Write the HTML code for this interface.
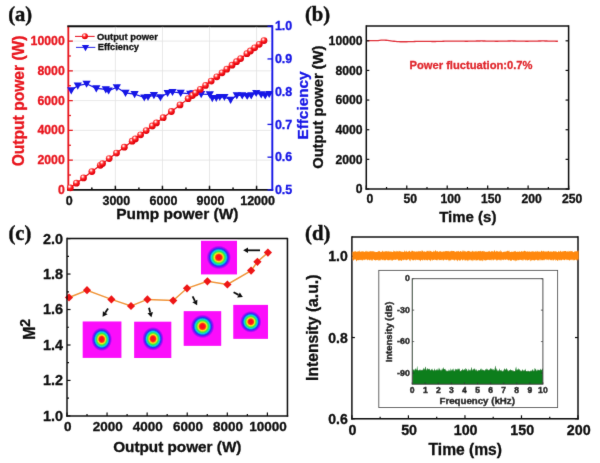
<!DOCTYPE html>
<html><head><meta charset="utf-8"><title>Figure</title>
<style>
html,body{margin:0;padding:0;background:#fff;}
body{width:600px;height:463px;overflow:hidden;}
svg{display:block;}
svg text{font-family:"Liberation Sans",sans-serif;font-weight:bold;}

svg text.pl{font-family:"Liberation Serif",serif;font-weight:bold;}
</style></head><body>
<svg width="600" height="463" viewBox="0 0 600 463">
<defs>
<filter id="soft" x="0" y="0" width="600" height="463" filterUnits="userSpaceOnUse"><feConvolveMatrix order="3" kernelMatrix="1 6 1 6 72 6 1 6 1" divisor="100" edgeMode="duplicate" preserveAlpha="false"/></filter>
<radialGradient id="sph" cx="0.38" cy="0.32" r="0.75">
<stop offset="0" stop-color="#ffffff"/><stop offset="0.14" stop-color="#ffc0c0"/><stop offset="0.32" stop-color="#ff3a3a"/><stop offset="0.6" stop-color="#f20c14"/><stop offset="1" stop-color="#d4000a"/>
</radialGradient>
<radialGradient id="beam" cx="0.5" cy="0.5" r="0.5">
<stop offset="0" stop-color="#ff0828"/>
<stop offset="0.24" stop-color="#ff1a10"/>
<stop offset="0.35" stop-color="#f6e81c"/>
<stop offset="0.48" stop-color="#22ee3a"/>
<stop offset="0.60" stop-color="#10d0e0"/>
<stop offset="0.72" stop-color="#1428f4"/>
<stop offset="0.83" stop-color="#9010f6"/>
<stop offset="0.97" stop-color="#fb08fb"/>
<stop offset="1" stop-color="#fb08fb"/>
</radialGradient>
</defs>
<rect width="600" height="463" fill="#fff"/>
<g filter="url(#soft)">
<line x1="115.37" y1="26.20" x2="115.37" y2="189.90" stroke="#e2e2e2" stroke-width="0.8" />
<line x1="162.44" y1="26.20" x2="162.44" y2="189.90" stroke="#e2e2e2" stroke-width="0.8" />
<line x1="209.51" y1="26.20" x2="209.51" y2="189.90" stroke="#e2e2e2" stroke-width="0.8" />
<line x1="256.58" y1="26.20" x2="256.58" y2="189.90" stroke="#e2e2e2" stroke-width="0.8" />
<line x1="68.30" y1="160.14" x2="272.30" y2="160.14" stroke="#e2e2e2" stroke-width="0.8" />
<line x1="68.30" y1="130.38" x2="272.30" y2="130.38" stroke="#e2e2e2" stroke-width="0.8" />
<line x1="68.30" y1="100.62" x2="272.30" y2="100.62" stroke="#e2e2e2" stroke-width="0.8" />
<line x1="68.30" y1="70.86" x2="272.30" y2="70.86" stroke="#e2e2e2" stroke-width="0.8" />
<line x1="68.30" y1="41.10" x2="272.30" y2="41.10" stroke="#e2e2e2" stroke-width="0.8" />
<line x1="68.30" y1="26.20" x2="68.30" y2="190.80" stroke="#e8141c" stroke-width="1.8" />
<line x1="67.35" y1="26.20" x2="272.30" y2="26.20" stroke="#0c0c0c" stroke-width="1.9000000000000001" />
<line x1="67.35" y1="189.90" x2="273.20" y2="189.90" stroke="#0c0c0c" stroke-width="1.9000000000000001" />
<line x1="68.30" y1="189.90" x2="68.30" y2="185.70" stroke="#0c0c0c" stroke-width="1.5" />
<line x1="91.83" y1="189.90" x2="91.83" y2="187.50" stroke="#0c0c0c" stroke-width="1.5" />
<line x1="115.37" y1="189.90" x2="115.37" y2="185.70" stroke="#0c0c0c" stroke-width="1.5" />
<line x1="138.91" y1="189.90" x2="138.91" y2="187.50" stroke="#0c0c0c" stroke-width="1.5" />
<line x1="162.44" y1="189.90" x2="162.44" y2="185.70" stroke="#0c0c0c" stroke-width="1.5" />
<line x1="185.97" y1="189.90" x2="185.97" y2="187.50" stroke="#0c0c0c" stroke-width="1.5" />
<line x1="209.51" y1="189.90" x2="209.51" y2="185.70" stroke="#0c0c0c" stroke-width="1.5" />
<line x1="233.05" y1="189.90" x2="233.05" y2="187.50" stroke="#0c0c0c" stroke-width="1.5" />
<line x1="256.58" y1="189.90" x2="256.58" y2="185.70" stroke="#0c0c0c" stroke-width="1.5" />
<line x1="272.30" y1="25.25" x2="272.30" y2="190.85" stroke="#1414e6" stroke-width="1.9000000000000001" />
<line x1="68.30" y1="189.90" x2="72.90" y2="189.90" stroke="#e8141c" stroke-width="1.3" />
<line x1="68.30" y1="175.02" x2="70.90" y2="175.02" stroke="#e8141c" stroke-width="1.3" />
<line x1="68.30" y1="160.14" x2="72.90" y2="160.14" stroke="#e8141c" stroke-width="1.3" />
<line x1="68.30" y1="145.26" x2="70.90" y2="145.26" stroke="#e8141c" stroke-width="1.3" />
<line x1="68.30" y1="130.38" x2="72.90" y2="130.38" stroke="#e8141c" stroke-width="1.3" />
<line x1="68.30" y1="115.50" x2="70.90" y2="115.50" stroke="#e8141c" stroke-width="1.3" />
<line x1="68.30" y1="100.62" x2="72.90" y2="100.62" stroke="#e8141c" stroke-width="1.3" />
<line x1="68.30" y1="85.74" x2="70.90" y2="85.74" stroke="#e8141c" stroke-width="1.3" />
<line x1="68.30" y1="70.86" x2="72.90" y2="70.86" stroke="#e8141c" stroke-width="1.3" />
<line x1="68.30" y1="55.98" x2="70.90" y2="55.98" stroke="#e8141c" stroke-width="1.3" />
<line x1="68.30" y1="41.10" x2="72.90" y2="41.10" stroke="#e8141c" stroke-width="1.3" />
<line x1="272.30" y1="189.90" x2="267.50" y2="189.90" stroke="#1414e6" stroke-width="1.3" />
<line x1="272.30" y1="157.16" x2="267.50" y2="157.16" stroke="#1414e6" stroke-width="1.3" />
<line x1="272.30" y1="124.42" x2="267.50" y2="124.42" stroke="#1414e6" stroke-width="1.3" />
<line x1="272.30" y1="91.68" x2="267.50" y2="91.68" stroke="#1414e6" stroke-width="1.3" />
<line x1="272.30" y1="58.94" x2="267.50" y2="58.94" stroke="#1414e6" stroke-width="1.3" />
<line x1="272.30" y1="26.20" x2="267.50" y2="26.20" stroke="#1414e6" stroke-width="1.3" />
<polyline fill="none" stroke="#1414e6" stroke-width="1.2" points="71.2,90.4 77.8,85.6 86.6,83.8 96.3,88.3 105.8,89.3 108.6,90.5 116.8,87.4 125.5,92.9 134.6,94.2 144.3,97.5 148.0,97.0 153.9,95.1 160.5,97.3 167.6,93.0 172.5,92.0 180.7,92.8 190.2,93.9 193.3,93.4 201.2,94.2 209.8,94.4 212.3,98.2 216.3,98.0 219.8,97.0 224.4,97.0 230.6,99.8 236.8,95.4 242.2,95.4 247.2,96.0 251.2,95.4 256.2,93.0 261.2,94.4 265.2,95.4 269.2,94.0"/>
<polygon points="67.1,87.3 75.3,87.3 71.2,94.5" fill="#1414e6"/>
<polygon points="73.7,82.5 81.9,82.5 77.8,89.7" fill="#1414e6"/>
<polygon points="82.5,80.7 90.7,80.7 86.6,87.8" fill="#1414e6"/>
<polygon points="92.2,85.2 100.4,85.2 96.3,92.4" fill="#1414e6"/>
<polygon points="101.7,86.2 109.9,86.2 105.8,93.4" fill="#1414e6"/>
<polygon points="104.5,87.4 112.7,87.4 108.6,94.6" fill="#1414e6"/>
<polygon points="112.7,84.3 120.9,84.3 116.8,91.5" fill="#1414e6"/>
<polygon points="121.4,89.8 129.6,89.8 125.5,97.0" fill="#1414e6"/>
<polygon points="130.5,91.1 138.7,91.1 134.6,98.3" fill="#1414e6"/>
<polygon points="140.2,94.4 148.4,94.4 144.3,101.6" fill="#1414e6"/>
<polygon points="143.9,93.9 152.1,93.9 148.0,101.1" fill="#1414e6"/>
<polygon points="149.8,92.0 158.0,92.0 153.9,99.2" fill="#1414e6"/>
<polygon points="156.4,94.2 164.6,94.2 160.5,101.4" fill="#1414e6"/>
<polygon points="163.5,89.9 171.7,89.9 167.6,97.1" fill="#1414e6"/>
<polygon points="168.4,88.9 176.6,88.9 172.5,96.1" fill="#1414e6"/>
<polygon points="176.6,89.7 184.8,89.7 180.7,96.9" fill="#1414e6"/>
<polygon points="186.1,90.8 194.3,90.8 190.2,98.0" fill="#1414e6"/>
<polygon points="189.2,90.3 197.4,90.3 193.3,97.5" fill="#1414e6"/>
<polygon points="197.1,91.1 205.3,91.1 201.2,98.3" fill="#1414e6"/>
<polygon points="205.7,91.3 213.9,91.3 209.8,98.5" fill="#1414e6"/>
<polygon points="208.2,95.1 216.4,95.1 212.3,102.3" fill="#1414e6"/>
<polygon points="212.2,94.9 220.4,94.9 216.3,102.1" fill="#1414e6"/>
<polygon points="215.7,93.9 223.9,93.9 219.8,101.1" fill="#1414e6"/>
<polygon points="220.3,93.9 228.5,93.9 224.4,101.1" fill="#1414e6"/>
<polygon points="226.5,96.7 234.7,96.7 230.6,103.9" fill="#1414e6"/>
<polygon points="232.7,92.3 240.9,92.3 236.8,99.5" fill="#1414e6"/>
<polygon points="238.1,92.3 246.3,92.3 242.2,99.5" fill="#1414e6"/>
<polygon points="243.1,92.9 251.3,92.9 247.2,100.1" fill="#1414e6"/>
<polygon points="247.1,92.3 255.3,92.3 251.2,99.5" fill="#1414e6"/>
<polygon points="252.1,89.9 260.3,89.9 256.2,97.1" fill="#1414e6"/>
<polygon points="257.1,91.3 265.3,91.3 261.2,98.5" fill="#1414e6"/>
<polygon points="261.1,92.3 269.3,92.3 265.2,99.5" fill="#1414e6"/>
<polygon points="265.1,90.9 273.3,90.9 269.2,98.1" fill="#1414e6"/>
<polyline fill="none" stroke="#e8141c" stroke-width="1.2" points="70.3,187.8 76.4,183.2 83.5,177.9 91.9,171.6 100.3,165.3 102.5,163.6 109.2,158.6 116.5,153.1 124.3,147.2 132.2,141.2 135.3,138.9 140.6,134.8 146.2,130.6 152.3,126.0 156.4,122.9 163.2,117.7 171.4,111.5 180.0,104.9 188.2,98.7 192.4,95.5 195.6,93.0 200.3,89.4 205.6,85.4 211.2,81.1 216.8,76.8 222.0,72.8 226.8,69.2 232.0,65.2 236.5,61.7 240.6,58.6 246.9,53.7 250.4,51.0 254.6,47.8 259.2,44.3 264.0,40.6"/>
<circle cx="70.3" cy="187.8" r="3.4" fill="url(#sph)"/>
<circle cx="76.4" cy="183.2" r="3.4" fill="url(#sph)"/>
<circle cx="83.5" cy="177.9" r="3.4" fill="url(#sph)"/>
<circle cx="91.9" cy="171.6" r="3.4" fill="url(#sph)"/>
<circle cx="100.3" cy="165.3" r="3.4" fill="url(#sph)"/>
<circle cx="102.5" cy="163.6" r="3.4" fill="url(#sph)"/>
<circle cx="109.2" cy="158.6" r="3.4" fill="url(#sph)"/>
<circle cx="116.5" cy="153.1" r="3.4" fill="url(#sph)"/>
<circle cx="124.3" cy="147.2" r="3.4" fill="url(#sph)"/>
<circle cx="132.2" cy="141.2" r="3.4" fill="url(#sph)"/>
<circle cx="135.3" cy="138.9" r="3.4" fill="url(#sph)"/>
<circle cx="140.6" cy="134.8" r="3.4" fill="url(#sph)"/>
<circle cx="146.2" cy="130.6" r="3.4" fill="url(#sph)"/>
<circle cx="152.3" cy="126.0" r="3.4" fill="url(#sph)"/>
<circle cx="156.4" cy="122.9" r="3.4" fill="url(#sph)"/>
<circle cx="163.2" cy="117.7" r="3.4" fill="url(#sph)"/>
<circle cx="171.4" cy="111.5" r="3.4" fill="url(#sph)"/>
<circle cx="180.0" cy="104.9" r="3.4" fill="url(#sph)"/>
<circle cx="188.2" cy="98.7" r="3.4" fill="url(#sph)"/>
<circle cx="192.4" cy="95.5" r="3.4" fill="url(#sph)"/>
<circle cx="195.6" cy="93.0" r="3.4" fill="url(#sph)"/>
<circle cx="200.3" cy="89.4" r="3.4" fill="url(#sph)"/>
<circle cx="205.6" cy="85.4" r="3.4" fill="url(#sph)"/>
<circle cx="211.2" cy="81.1" r="3.4" fill="url(#sph)"/>
<circle cx="216.8" cy="76.8" r="3.4" fill="url(#sph)"/>
<circle cx="222.0" cy="72.8" r="3.4" fill="url(#sph)"/>
<circle cx="226.8" cy="69.2" r="3.4" fill="url(#sph)"/>
<circle cx="232.0" cy="65.2" r="3.4" fill="url(#sph)"/>
<circle cx="236.5" cy="61.7" r="3.4" fill="url(#sph)"/>
<circle cx="240.6" cy="58.6" r="3.4" fill="url(#sph)"/>
<circle cx="246.9" cy="53.7" r="3.4" fill="url(#sph)"/>
<circle cx="250.4" cy="51.0" r="3.4" fill="url(#sph)"/>
<circle cx="254.6" cy="47.8" r="3.4" fill="url(#sph)"/>
<circle cx="259.2" cy="44.3" r="3.4" fill="url(#sph)"/>
<circle cx="264.0" cy="40.6" r="3.4" fill="url(#sph)"/>
<text x="64.80" y="193.90" font-size="12.3" fill="#e8141c" stroke="#e8141c" stroke-width="0.3" text-anchor="end" >0</text>
<text x="64.80" y="164.14" font-size="12.3" fill="#e8141c" stroke="#e8141c" stroke-width="0.3" text-anchor="end" >2000</text>
<text x="64.80" y="134.38" font-size="12.3" fill="#e8141c" stroke="#e8141c" stroke-width="0.3" text-anchor="end" >4000</text>
<text x="64.80" y="104.62" font-size="12.3" fill="#e8141c" stroke="#e8141c" stroke-width="0.3" text-anchor="end" >6000</text>
<text x="64.80" y="74.86" font-size="12.3" fill="#e8141c" stroke="#e8141c" stroke-width="0.3" text-anchor="end" >8000</text>
<text x="64.80" y="45.10" font-size="12.3" fill="#e8141c" stroke="#e8141c" stroke-width="0.3" text-anchor="end" >10000</text>
<text x="69.30" y="204.80" font-size="12.5" fill="#0c0c0c" stroke="#0c0c0c" stroke-width="0.3" text-anchor="middle" >0</text>
<text x="116.37" y="204.80" font-size="12.5" fill="#0c0c0c" stroke="#0c0c0c" stroke-width="0.3" text-anchor="middle" >3000</text>
<text x="163.44" y="204.80" font-size="12.5" fill="#0c0c0c" stroke="#0c0c0c" stroke-width="0.3" text-anchor="middle" >6000</text>
<text x="210.51" y="204.80" font-size="12.5" fill="#0c0c0c" stroke="#0c0c0c" stroke-width="0.3" text-anchor="middle" >9000</text>
<text x="257.58" y="204.80" font-size="12.5" fill="#0c0c0c" stroke="#0c0c0c" stroke-width="0.3" text-anchor="middle" >12000</text>
<text x="274.90" y="194.10" font-size="12.5" fill="#1414e6" stroke="#1414e6" stroke-width="0.3" text-anchor="start" >0.5</text>
<text x="274.90" y="161.36" font-size="12.5" fill="#1414e6" stroke="#1414e6" stroke-width="0.3" text-anchor="start" >0.6</text>
<text x="274.90" y="128.62" font-size="12.5" fill="#1414e6" stroke="#1414e6" stroke-width="0.3" text-anchor="start" >0.7</text>
<text x="274.90" y="95.88" font-size="12.5" fill="#1414e6" stroke="#1414e6" stroke-width="0.3" text-anchor="start" >0.8</text>
<text x="274.90" y="63.14" font-size="12.5" fill="#1414e6" stroke="#1414e6" stroke-width="0.3" text-anchor="start" >0.9</text>
<text x="274.90" y="30.40" font-size="12.5" fill="#1414e6" stroke="#1414e6" stroke-width="0.3" text-anchor="start" >1.0</text>
<text x="24.20" y="100.90" font-size="15.6" fill="#e8141c" stroke="#e8141c" stroke-width="0.3" text-anchor="middle" transform="rotate(-90 24.20 100.90)" >Output power (W)</text>
<text x="177.30" y="219.00" font-size="15.5" fill="#0c0c0c" stroke="#0c0c0c" stroke-width="0.3" text-anchor="middle" >Pump power (W)</text>
<text x="308.30" y="105.50" font-size="15.3" fill="#1414e6" stroke="#1414e6" stroke-width="0.3" text-anchor="middle" transform="rotate(-90 308.30 105.50)" >Effciency</text>
<line x1="75.00" y1="36.40" x2="94.70" y2="36.40" stroke="#e8141c" stroke-width="1" />
<circle cx="84.9" cy="36.3" r="3.0" fill="url(#sph)"/>
<text x="97.00" y="39.60" font-size="9.4" fill="#0c0c0c" stroke="#0c0c0c" stroke-width="0.3" text-anchor="start" >Output power</text>
<line x1="76.00" y1="47.40" x2="95.30" y2="47.40" stroke="#1414e6" stroke-width="0.9" />
<polygon points="81.9,44.9 89.1,44.9 85.5,51.2" fill="#1414e6"/>
<text x="97.70" y="50.30" font-size="9.3" fill="#0c0c0c" stroke="#0c0c0c" stroke-width="0.3" text-anchor="start" >Effciency</text>
<polyline fill="none" stroke="#e0303a" stroke-width="1.3" points="366.9,40.60 368.5,40.60 370.1,40.60 371.7,40.60 373.3,40.60 374.9,40.60 376.4,40.60 378.0,40.60 379.6,40.40 381.2,40.21 382.8,40.11 384.4,40.12 386.0,40.23 387.6,40.43 389.2,40.65 390.8,40.85 392.4,41.05 394.0,41.24 395.5,41.44 397.1,41.64 398.7,41.72 400.3,41.75 401.9,41.76 403.5,41.77 405.1,41.76 406.7,41.74 408.3,41.70 409.9,41.66 411.5,41.60 413.1,41.55 414.6,41.49 416.2,41.44 417.8,41.40 419.4,41.37 421.0,41.35 422.6,41.35 424.2,41.36 425.8,41.38 427.4,41.41 429.0,41.44 430.6,41.46 432.1,41.48 433.7,41.49 435.3,41.48 436.9,41.46 438.5,41.43 440.1,41.38 441.7,41.33 443.3,41.27 444.9,41.22 446.5,41.17 448.1,41.12 449.7,41.09 451.2,41.07 452.8,41.07 454.4,41.08 456.0,41.10 457.6,41.12 459.2,41.15 460.8,41.18 462.4,41.19 464.0,41.22 465.6,41.23 467.2,41.23 468.8,41.21 470.3,41.18 471.9,41.15 473.5,41.10 475.1,41.06 476.7,41.02 478.3,40.99 479.9,40.98 481.5,40.97 483.1,40.98 484.7,41.00 486.3,41.03 487.8,41.07 489.4,41.11 491.0,41.15 492.6,41.19 494.2,41.22 495.8,41.23 497.4,41.23 499.0,41.21 500.6,41.19 502.2,41.15 503.8,41.11 505.4,41.07 506.9,41.03 508.5,41.00 510.1,40.98 511.7,40.97 513.3,40.98 514.9,41.00 516.5,41.03 518.1,41.06 519.7,41.11 521.3,41.15 522.9,41.18 524.5,41.21 526.0,41.23 527.6,41.23 529.2,41.22 530.8,41.19 532.4,41.16 534.0,41.12 535.6,41.08 537.2,41.04 538.8,41.00 540.4,40.98 542.0,40.97 543.5,40.97 545.1,40.99 546.7,41.02 548.3,41.06 549.9,41.10 551.5,41.14 553.1,41.18 554.7,41.21 556.3,41.23 557.9,41.23"/>
<line x1="366.30" y1="26.00" x2="568.60" y2="26.00" stroke="#0c0c0c" stroke-width="1.5" />
<line x1="365.55" y1="189.00" x2="569.35" y2="189.00" stroke="#0c0c0c" stroke-width="1.5" />
<line x1="366.30" y1="25.25" x2="366.30" y2="189.75" stroke="#0c0c0c" stroke-width="1.5" />
<line x1="568.60" y1="25.25" x2="568.60" y2="189.75" stroke="#0c0c0c" stroke-width="1.5" />
<line x1="366.30" y1="189.00" x2="366.30" y2="185.50" stroke="#0c0c0c" stroke-width="1.2" />
<line x1="386.53" y1="189.00" x2="386.53" y2="187.00" stroke="#0c0c0c" stroke-width="1.2" />
<line x1="406.76" y1="189.00" x2="406.76" y2="185.50" stroke="#0c0c0c" stroke-width="1.2" />
<line x1="426.99" y1="189.00" x2="426.99" y2="187.00" stroke="#0c0c0c" stroke-width="1.2" />
<line x1="447.22" y1="189.00" x2="447.22" y2="185.50" stroke="#0c0c0c" stroke-width="1.2" />
<line x1="467.45" y1="189.00" x2="467.45" y2="187.00" stroke="#0c0c0c" stroke-width="1.2" />
<line x1="487.68" y1="189.00" x2="487.68" y2="185.50" stroke="#0c0c0c" stroke-width="1.2" />
<line x1="507.91" y1="189.00" x2="507.91" y2="187.00" stroke="#0c0c0c" stroke-width="1.2" />
<line x1="528.14" y1="189.00" x2="528.14" y2="185.50" stroke="#0c0c0c" stroke-width="1.2" />
<line x1="548.37" y1="189.00" x2="548.37" y2="187.00" stroke="#0c0c0c" stroke-width="1.2" />
<line x1="568.60" y1="189.00" x2="568.60" y2="185.50" stroke="#0c0c0c" stroke-width="1.2" />
<line x1="366.30" y1="189.00" x2="369.30" y2="189.00" stroke="#0c0c0c" stroke-width="1.2" />
<line x1="568.60" y1="189.00" x2="565.60" y2="189.00" stroke="#0c0c0c" stroke-width="1.2" />
<line x1="366.30" y1="159.36" x2="369.30" y2="159.36" stroke="#0c0c0c" stroke-width="1.2" />
<line x1="568.60" y1="159.36" x2="565.60" y2="159.36" stroke="#0c0c0c" stroke-width="1.2" />
<line x1="366.30" y1="129.72" x2="369.30" y2="129.72" stroke="#0c0c0c" stroke-width="1.2" />
<line x1="568.60" y1="129.72" x2="565.60" y2="129.72" stroke="#0c0c0c" stroke-width="1.2" />
<line x1="366.30" y1="100.08" x2="369.30" y2="100.08" stroke="#0c0c0c" stroke-width="1.2" />
<line x1="568.60" y1="100.08" x2="565.60" y2="100.08" stroke="#0c0c0c" stroke-width="1.2" />
<line x1="366.30" y1="70.44" x2="369.30" y2="70.44" stroke="#0c0c0c" stroke-width="1.2" />
<line x1="568.60" y1="70.44" x2="565.60" y2="70.44" stroke="#0c0c0c" stroke-width="1.2" />
<line x1="366.30" y1="40.80" x2="369.30" y2="40.80" stroke="#0c0c0c" stroke-width="1.2" />
<line x1="568.60" y1="40.80" x2="565.60" y2="40.80" stroke="#0c0c0c" stroke-width="1.2" />
<text x="362.50" y="193.40" font-size="12.2" fill="#0c0c0c" stroke="#0c0c0c" stroke-width="0.3" text-anchor="end" >0</text>
<text x="362.50" y="163.76" font-size="12.2" fill="#0c0c0c" stroke="#0c0c0c" stroke-width="0.3" text-anchor="end" >2000</text>
<text x="362.50" y="134.12" font-size="12.2" fill="#0c0c0c" stroke="#0c0c0c" stroke-width="0.3" text-anchor="end" >4000</text>
<text x="362.50" y="104.48" font-size="12.2" fill="#0c0c0c" stroke="#0c0c0c" stroke-width="0.3" text-anchor="end" >6000</text>
<text x="362.50" y="74.84" font-size="12.2" fill="#0c0c0c" stroke="#0c0c0c" stroke-width="0.3" text-anchor="end" >8000</text>
<text x="362.50" y="45.20" font-size="12.2" fill="#0c0c0c" stroke="#0c0c0c" stroke-width="0.3" text-anchor="end" >10000</text>
<text x="369.80" y="203.20" font-size="12.2" fill="#0c0c0c" stroke="#0c0c0c" stroke-width="0.3" text-anchor="middle" >0</text>
<text x="410.26" y="203.20" font-size="12.2" fill="#0c0c0c" stroke="#0c0c0c" stroke-width="0.3" text-anchor="middle" >50</text>
<text x="450.72" y="203.20" font-size="12.2" fill="#0c0c0c" stroke="#0c0c0c" stroke-width="0.3" text-anchor="middle" >100</text>
<text x="491.18" y="203.20" font-size="12.2" fill="#0c0c0c" stroke="#0c0c0c" stroke-width="0.3" text-anchor="middle" >150</text>
<text x="531.64" y="203.20" font-size="12.2" fill="#0c0c0c" stroke="#0c0c0c" stroke-width="0.3" text-anchor="middle" >200</text>
<text x="572.10" y="203.20" font-size="12.2" fill="#0c0c0c" stroke="#0c0c0c" stroke-width="0.3" text-anchor="middle" >250</text>
<text x="322.80" y="107.20" font-size="14.7" fill="#0c0c0c" stroke="#0c0c0c" stroke-width="0.3" text-anchor="middle" transform="rotate(-90 322.80 107.20)" >Output power (W)</text>
<text x="467.80" y="221.90" font-size="15.0" fill="#0c0c0c" stroke="#0c0c0c" stroke-width="0.3" text-anchor="middle" >Time (s)</text>
<text x="471.00" y="68.80" font-size="11.2" fill="#e0282e" stroke="#e0282e" stroke-width="0.3" text-anchor="middle" >Power fluctuation:0.7%</text>
<polyline fill="none" stroke="#f0963a" stroke-width="1.5" points="69.0,297.5 87.0,290.2 111.4,299.4 131.0,306.0 147.4,299.4 173.2,300.6 187.0,288.3 207.4,281.3 227.4,284.5 251.1,270.6 257.4,261.8 267.9,252.6"/>
<rect x="82.7" y="321.5" width="38.7" height="36.4" fill="#fb08fb"/>
<ellipse cx="101.7" cy="339.3" rx="10.7" ry="12.2" fill="url(#beam)"/>
<rect x="134.2" y="321.7" width="37.1" height="36.3" fill="#fb08fb"/>
<ellipse cx="153.0" cy="338.8" rx="11.0" ry="12.2" fill="url(#beam)"/>
<rect x="183.7" y="311.2" width="37.5" height="34.6" fill="#fb08fb"/>
<ellipse cx="202.5" cy="326.4" rx="12.2" ry="12.2" fill="url(#beam)"/>
<rect x="233.3" y="304.9" width="34.7" height="33.9" fill="#fb08fb"/>
<ellipse cx="250.8" cy="321.8" rx="11.0" ry="11.2" fill="url(#beam)"/>
<rect x="201.0" y="240.8" width="36.0" height="33.6" fill="#fb08fb"/>
<ellipse cx="218.8" cy="257.4" rx="12.6" ry="12.2" fill="url(#beam)"/>
<line x1="108.00" y1="308.60" x2="105.24" y2="312.79" stroke="#0c0c0c" stroke-width="1.8" />
<polygon points="102.6,316.8 102.9,311.3 107.6,314.3" fill="#0c0c0c"/>
<line x1="149.00" y1="307.80" x2="150.21" y2="312.55" stroke="#0c0c0c" stroke-width="1.8" />
<polygon points="151.4,317.2 147.5,313.2 152.9,311.9" fill="#0c0c0c"/>
<line x1="192.60" y1="296.40" x2="194.91" y2="300.93" stroke="#0c0c0c" stroke-width="1.8" />
<polygon points="197.1,305.2 192.4,302.2 197.4,299.7" fill="#0c0c0c"/>
<line x1="233.60" y1="292.30" x2="238.54" y2="294.88" stroke="#0c0c0c" stroke-width="1.8" />
<polygon points="242.8,297.1 237.2,297.4 239.8,292.4" fill="#0c0c0c"/>
<line x1="260.00" y1="250.30" x2="248.00" y2="250.30" stroke="#0c0c0c" stroke-width="1.8" />
<polygon points="243.2,250.3 248.0,247.5 248.0,253.1" fill="#0c0c0c"/>
<polygon points="64.9,297.5 69.0,293.4 73.1,297.5 69.0,301.6" fill="#ee1418"/>
<polygon points="82.9,290.2 87.0,286.1 91.1,290.2 87.0,294.3" fill="#ee1418"/>
<polygon points="107.3,299.4 111.4,295.3 115.5,299.4 111.4,303.5" fill="#ee1418"/>
<polygon points="126.9,306.0 131.0,301.9 135.1,306.0 131.0,310.1" fill="#ee1418"/>
<polygon points="143.3,299.4 147.4,295.3 151.5,299.4 147.4,303.5" fill="#ee1418"/>
<polygon points="169.1,300.6 173.2,296.5 177.3,300.6 173.2,304.7" fill="#ee1418"/>
<polygon points="182.9,288.3 187.0,284.2 191.1,288.3 187.0,292.4" fill="#ee1418"/>
<polygon points="203.3,281.3 207.4,277.2 211.5,281.3 207.4,285.4" fill="#ee1418"/>
<polygon points="223.3,284.5 227.4,280.4 231.5,284.5 227.4,288.6" fill="#ee1418"/>
<polygon points="247.0,270.6 251.1,266.5 255.2,270.6 251.1,274.7" fill="#ee1418"/>
<polygon points="253.3,261.8 257.4,257.7 261.5,261.8 257.4,265.9" fill="#ee1418"/>
<polygon points="263.8,252.6 267.9,248.5 272.0,252.6 267.9,256.7" fill="#ee1418"/>
<line x1="67.00" y1="238.60" x2="287.45" y2="238.60" stroke="#0c0c0c" stroke-width="1.5" />
<line x1="66.25" y1="415.90" x2="288.20" y2="415.90" stroke="#0c0c0c" stroke-width="1.5" />
<line x1="67.00" y1="237.85" x2="67.00" y2="416.65" stroke="#0c0c0c" stroke-width="1.5" />
<line x1="287.45" y1="237.85" x2="287.45" y2="416.65" stroke="#0c0c0c" stroke-width="1.5" />
<line x1="67.00" y1="415.90" x2="67.00" y2="412.40" stroke="#0c0c0c" stroke-width="1.2" />
<line x1="87.04" y1="415.90" x2="87.04" y2="413.90" stroke="#0c0c0c" stroke-width="1.2" />
<line x1="107.08" y1="415.90" x2="107.08" y2="412.40" stroke="#0c0c0c" stroke-width="1.2" />
<line x1="127.12" y1="415.90" x2="127.12" y2="413.90" stroke="#0c0c0c" stroke-width="1.2" />
<line x1="147.16" y1="415.90" x2="147.16" y2="412.40" stroke="#0c0c0c" stroke-width="1.2" />
<line x1="167.20" y1="415.90" x2="167.20" y2="413.90" stroke="#0c0c0c" stroke-width="1.2" />
<line x1="187.24" y1="415.90" x2="187.24" y2="412.40" stroke="#0c0c0c" stroke-width="1.2" />
<line x1="207.28" y1="415.90" x2="207.28" y2="413.90" stroke="#0c0c0c" stroke-width="1.2" />
<line x1="227.32" y1="415.90" x2="227.32" y2="412.40" stroke="#0c0c0c" stroke-width="1.2" />
<line x1="247.36" y1="415.90" x2="247.36" y2="413.90" stroke="#0c0c0c" stroke-width="1.2" />
<line x1="267.40" y1="415.90" x2="267.40" y2="412.40" stroke="#0c0c0c" stroke-width="1.2" />
<line x1="67.00" y1="415.90" x2="70.50" y2="415.90" stroke="#0c0c0c" stroke-width="1.2" />
<line x1="67.00" y1="398.17" x2="69.00" y2="398.17" stroke="#0c0c0c" stroke-width="1.2" />
<line x1="67.00" y1="380.44" x2="70.50" y2="380.44" stroke="#0c0c0c" stroke-width="1.2" />
<line x1="67.00" y1="362.71" x2="69.00" y2="362.71" stroke="#0c0c0c" stroke-width="1.2" />
<line x1="67.00" y1="344.98" x2="70.50" y2="344.98" stroke="#0c0c0c" stroke-width="1.2" />
<line x1="67.00" y1="327.25" x2="69.00" y2="327.25" stroke="#0c0c0c" stroke-width="1.2" />
<line x1="67.00" y1="309.52" x2="70.50" y2="309.52" stroke="#0c0c0c" stroke-width="1.2" />
<line x1="67.00" y1="291.79" x2="69.00" y2="291.79" stroke="#0c0c0c" stroke-width="1.2" />
<line x1="67.00" y1="274.06" x2="70.50" y2="274.06" stroke="#0c0c0c" stroke-width="1.2" />
<line x1="67.00" y1="256.33" x2="69.00" y2="256.33" stroke="#0c0c0c" stroke-width="1.2" />
<line x1="67.00" y1="238.60" x2="70.50" y2="238.60" stroke="#0c0c0c" stroke-width="1.2" />
<text x="63.10" y="420.80" font-size="14.4" fill="#0c0c0c" stroke="#0c0c0c" stroke-width="0.3" text-anchor="end" >1.0</text>
<text x="63.10" y="385.34" font-size="14.4" fill="#0c0c0c" stroke="#0c0c0c" stroke-width="0.3" text-anchor="end" >1.2</text>
<text x="63.10" y="349.88" font-size="14.4" fill="#0c0c0c" stroke="#0c0c0c" stroke-width="0.3" text-anchor="end" >1.4</text>
<text x="63.10" y="314.42" font-size="14.4" fill="#0c0c0c" stroke="#0c0c0c" stroke-width="0.3" text-anchor="end" >1.6</text>
<text x="63.10" y="278.96" font-size="14.4" fill="#0c0c0c" stroke="#0c0c0c" stroke-width="0.3" text-anchor="end" >1.8</text>
<text x="63.10" y="243.50" font-size="14.4" fill="#0c0c0c" stroke="#0c0c0c" stroke-width="0.3" text-anchor="end" >2.0</text>
<text x="67.70" y="430.90" font-size="13.5" fill="#0c0c0c" stroke="#0c0c0c" stroke-width="0.3" text-anchor="middle" >0</text>
<text x="107.78" y="430.90" font-size="13.5" fill="#0c0c0c" stroke="#0c0c0c" stroke-width="0.3" text-anchor="middle" >2000</text>
<text x="147.86" y="430.90" font-size="13.5" fill="#0c0c0c" stroke="#0c0c0c" stroke-width="0.3" text-anchor="middle" >4000</text>
<text x="187.94" y="430.90" font-size="13.5" fill="#0c0c0c" stroke="#0c0c0c" stroke-width="0.3" text-anchor="middle" >6000</text>
<text x="228.02" y="430.90" font-size="13.5" fill="#0c0c0c" stroke="#0c0c0c" stroke-width="0.3" text-anchor="middle" >8000</text>
<text x="268.10" y="430.90" font-size="13.5" fill="#0c0c0c" stroke="#0c0c0c" stroke-width="0.3" text-anchor="middle" >10000</text>
<text x="177.30" y="452.30" font-size="15.3" fill="#0c0c0c" stroke="#0c0c0c" stroke-width="0.3" text-anchor="middle" >Output power (W)</text>
<text x="35.3" y="329.4" font-size="15.7" fill="#0c0c0c" stroke="#0c0c0c" stroke-width="0.3" text-anchor="middle" transform="rotate(-90 35.3 329.4)">M<tspan dy="-4.9" font-size="14">2</tspan></text>
<rect x="378.8" y="270.4" width="178.8" height="137.1" fill="#fff" stroke="#4a4a4a" stroke-width="0.9"/>
<polygon fill="#0b7e1e" points="412.2,384.2 412.2,368.8 412.8,370.8 413.4,369.1 414.1,370.7 414.7,369.6 415.3,368.2 415.9,369.6 416.6,369.7 417.2,365.7 417.8,370.1 418.4,370.3 419.0,370.5 419.7,369.4 420.3,369.5 420.9,370.4 421.5,370.0 422.2,369.5 422.8,370.2 423.4,367.6 424.0,369.7 424.6,368.9 425.3,366.6 425.9,367.5 426.5,370.4 427.1,368.8 427.8,368.3 428.4,369.0 429.0,369.5 429.6,368.4 430.2,369.8 430.9,370.4 431.5,369.2 432.1,368.5 432.7,370.0 433.4,370.4 434.0,370.2 434.6,368.2 435.2,370.0 435.9,370.5 436.5,369.7 437.1,368.6 437.7,370.3 438.3,370.2 439.0,367.5 439.6,369.2 440.2,369.6 440.8,370.6 441.5,370.3 442.1,368.1 442.7,370.0 443.3,367.1 443.9,369.0 444.6,369.0 445.2,368.7 445.8,370.3 446.4,370.8 447.1,370.5 447.7,370.9 448.3,370.9 448.9,369.2 449.5,370.6 450.2,370.9 450.8,368.2 451.4,370.1 452.0,370.7 452.7,369.1 453.3,368.5 453.9,371.0 454.5,371.1 455.1,368.4 455.8,369.8 456.4,368.8 457.0,370.4 457.6,368.8 458.3,368.5 458.9,369.4 459.5,368.3 460.1,370.8 460.7,371.0 461.4,369.9 462.0,370.6 462.6,368.5 463.2,370.2 463.9,369.5 464.5,368.9 465.1,370.5 465.7,367.7 466.3,368.9 467.0,369.6 467.6,371.1 468.2,370.8 468.8,368.5 469.5,370.7 470.1,369.3 470.7,371.0 471.3,367.1 471.9,368.3 472.6,370.7 473.2,368.4 473.8,369.8 474.4,368.5 475.1,368.8 475.7,370.8 476.3,369.1 476.9,370.7 477.5,370.8 478.2,370.5 478.8,369.8 479.4,370.3 480.0,370.0 480.7,368.8 481.3,368.5 481.9,370.6 482.5,369.2 483.2,370.3 483.8,369.8 484.4,370.6 485.0,370.4 485.6,368.9 486.3,369.7 486.9,368.2 487.5,369.5 488.1,369.8 488.8,369.9 489.4,369.8 490.0,369.1 490.6,368.0 491.2,369.6 491.9,368.2 492.5,369.3 493.1,370.5 493.7,368.8 494.4,370.5 495.0,367.1 495.6,365.6 496.2,370.3 496.8,368.1 497.5,370.9 498.1,370.3 498.7,371.0 499.3,368.3 500.0,369.9 500.6,370.2 501.2,371.3 501.8,369.6 502.4,371.3 503.1,371.3 503.7,369.9 504.3,368.8 504.9,368.5 505.6,370.1 506.2,369.1 506.8,367.9 507.4,369.7 508.0,370.8 508.7,370.8 509.3,370.2 509.9,369.9 510.5,369.2 511.2,370.2 511.8,370.0 512.4,370.6 513.0,370.6 513.6,370.8 514.3,370.9 514.9,370.9 515.5,368.8 516.1,366.4 516.8,370.5 517.4,369.0 518.0,370.3 518.6,368.3 519.2,369.1 519.9,369.9 520.5,370.4 521.1,371.1 521.7,370.7 522.4,369.2 523.0,369.9 523.6,371.0 524.2,369.4 524.9,371.0 525.5,368.5 526.1,371.0 526.7,370.9 527.3,371.2 528.0,370.6 528.6,371.1 529.2,371.2 529.8,371.2 530.5,370.4 531.1,371.0 531.7,370.4 532.3,370.0 532.9,369.0 533.6,370.9 534.2,371.1 534.8,367.8 535.4,368.9 536.1,369.6 536.7,371.0 537.3,370.4 537.9,369.2 538.5,370.1 539.2,369.7 539.8,370.5 540.4,368.4 541.0,370.1 541.7,369.8 542.3,368.2 542.9,369.3 542.9,384.2"/>
<line x1="412.50" y1="278.70" x2="412.50" y2="384.20" stroke="#5aa565" stroke-width="0.8" />
<rect x="412.2" y="278.7" width="130.7" height="105.5" fill="none" stroke="#333" stroke-width="0.9"/>
<line x1="412.20" y1="384.20" x2="412.20" y2="382.40" stroke="#333" stroke-width="0.8" />
<text x="412.20" y="393.40" font-size="8.6" fill="#0c0c0c" stroke="#0c0c0c" stroke-width="0.4" text-anchor="middle" >0</text>
<line x1="425.27" y1="384.20" x2="425.27" y2="382.40" stroke="#333" stroke-width="0.8" />
<text x="425.27" y="393.40" font-size="8.6" fill="#0c0c0c" stroke="#0c0c0c" stroke-width="0.4" text-anchor="middle" >1</text>
<line x1="438.34" y1="384.20" x2="438.34" y2="382.40" stroke="#333" stroke-width="0.8" />
<text x="438.34" y="393.40" font-size="8.6" fill="#0c0c0c" stroke="#0c0c0c" stroke-width="0.4" text-anchor="middle" >2</text>
<line x1="451.41" y1="384.20" x2="451.41" y2="382.40" stroke="#333" stroke-width="0.8" />
<text x="451.41" y="393.40" font-size="8.6" fill="#0c0c0c" stroke="#0c0c0c" stroke-width="0.4" text-anchor="middle" >3</text>
<line x1="464.48" y1="384.20" x2="464.48" y2="382.40" stroke="#333" stroke-width="0.8" />
<text x="464.48" y="393.40" font-size="8.6" fill="#0c0c0c" stroke="#0c0c0c" stroke-width="0.4" text-anchor="middle" >4</text>
<line x1="477.55" y1="384.20" x2="477.55" y2="382.40" stroke="#333" stroke-width="0.8" />
<text x="477.55" y="393.40" font-size="8.6" fill="#0c0c0c" stroke="#0c0c0c" stroke-width="0.4" text-anchor="middle" >5</text>
<line x1="490.62" y1="384.20" x2="490.62" y2="382.40" stroke="#333" stroke-width="0.8" />
<text x="490.62" y="393.40" font-size="8.6" fill="#0c0c0c" stroke="#0c0c0c" stroke-width="0.4" text-anchor="middle" >6</text>
<line x1="503.69" y1="384.20" x2="503.69" y2="382.40" stroke="#333" stroke-width="0.8" />
<text x="503.69" y="393.40" font-size="8.6" fill="#0c0c0c" stroke="#0c0c0c" stroke-width="0.4" text-anchor="middle" >7</text>
<line x1="516.76" y1="384.20" x2="516.76" y2="382.40" stroke="#333" stroke-width="0.8" />
<text x="516.76" y="393.40" font-size="8.6" fill="#0c0c0c" stroke="#0c0c0c" stroke-width="0.4" text-anchor="middle" >8</text>
<line x1="529.83" y1="384.20" x2="529.83" y2="382.40" stroke="#333" stroke-width="0.8" />
<text x="529.83" y="393.40" font-size="8.6" fill="#0c0c0c" stroke="#0c0c0c" stroke-width="0.4" text-anchor="middle" >9</text>
<line x1="542.90" y1="384.20" x2="542.90" y2="382.40" stroke="#333" stroke-width="0.8" />
<text x="542.90" y="393.40" font-size="8.6" fill="#0c0c0c" stroke="#0c0c0c" stroke-width="0.4" text-anchor="middle" >10</text>
<line x1="412.20" y1="278.70" x2="414.20" y2="278.70" stroke="#333" stroke-width="0.8" />
<line x1="542.90" y1="278.70" x2="540.90" y2="278.70" stroke="#333" stroke-width="0.8" />
<text x="409.80" y="281.30" font-size="8.8" fill="#0c0c0c" stroke="#0c0c0c" stroke-width="0.4" text-anchor="end" >0</text>
<line x1="412.20" y1="310.13" x2="414.20" y2="310.13" stroke="#333" stroke-width="0.8" />
<line x1="542.90" y1="310.13" x2="540.90" y2="310.13" stroke="#333" stroke-width="0.8" />
<text x="409.80" y="312.73" font-size="8.8" fill="#0c0c0c" stroke="#0c0c0c" stroke-width="0.4" text-anchor="end" >-30</text>
<line x1="412.20" y1="341.57" x2="414.20" y2="341.57" stroke="#333" stroke-width="0.8" />
<line x1="542.90" y1="341.57" x2="540.90" y2="341.57" stroke="#333" stroke-width="0.8" />
<text x="409.80" y="344.17" font-size="8.8" fill="#0c0c0c" stroke="#0c0c0c" stroke-width="0.4" text-anchor="end" >-60</text>
<line x1="412.20" y1="373.00" x2="414.20" y2="373.00" stroke="#333" stroke-width="0.8" />
<line x1="542.90" y1="373.00" x2="540.90" y2="373.00" stroke="#333" stroke-width="0.8" />
<text x="409.80" y="375.60" font-size="8.8" fill="#0c0c0c" stroke="#0c0c0c" stroke-width="0.4" text-anchor="end" >-90</text>
<text x="392.40" y="332.00" font-size="9.5" fill="#0c0c0c" stroke="#0c0c0c" stroke-width="0.4" text-anchor="middle" transform="rotate(-90 392.40 332.00)" >Intensity (dB)</text>
<text x="477.20" y="403.70" font-size="9.7" fill="#0c0c0c" stroke="#0c0c0c" stroke-width="0.4" text-anchor="middle" >Frequency (kHz)</text>
<line x1="351.90" y1="237.10" x2="578.00" y2="237.10" stroke="#0c0c0c" stroke-width="1.5" />
<line x1="351.15" y1="418.80" x2="578.75" y2="418.80" stroke="#0c0c0c" stroke-width="1.5" />
<line x1="351.90" y1="236.35" x2="351.90" y2="419.55" stroke="#0c0c0c" stroke-width="1.5" />
<line x1="578.00" y1="236.35" x2="578.00" y2="419.55" stroke="#0c0c0c" stroke-width="1.5" />
<line x1="351.90" y1="418.80" x2="351.90" y2="415.30" stroke="#0c0c0c" stroke-width="1.2" />
<line x1="380.16" y1="418.80" x2="380.16" y2="416.80" stroke="#0c0c0c" stroke-width="1.2" />
<line x1="408.42" y1="418.80" x2="408.42" y2="415.30" stroke="#0c0c0c" stroke-width="1.2" />
<line x1="436.69" y1="418.80" x2="436.69" y2="416.80" stroke="#0c0c0c" stroke-width="1.2" />
<line x1="464.95" y1="418.80" x2="464.95" y2="415.30" stroke="#0c0c0c" stroke-width="1.2" />
<line x1="493.21" y1="418.80" x2="493.21" y2="416.80" stroke="#0c0c0c" stroke-width="1.2" />
<line x1="521.48" y1="418.80" x2="521.48" y2="415.30" stroke="#0c0c0c" stroke-width="1.2" />
<line x1="549.74" y1="418.80" x2="549.74" y2="416.80" stroke="#0c0c0c" stroke-width="1.2" />
<line x1="578.00" y1="418.80" x2="578.00" y2="415.30" stroke="#0c0c0c" stroke-width="1.2" />
<line x1="351.90" y1="418.80" x2="354.90" y2="418.80" stroke="#0c0c0c" stroke-width="1.2" />
<line x1="578.00" y1="418.80" x2="575.00" y2="418.80" stroke="#0c0c0c" stroke-width="1.2" />
<line x1="351.90" y1="337.54" x2="354.90" y2="337.54" stroke="#0c0c0c" stroke-width="1.2" />
<line x1="578.00" y1="337.54" x2="575.00" y2="337.54" stroke="#0c0c0c" stroke-width="1.2" />
<line x1="351.90" y1="256.28" x2="354.90" y2="256.28" stroke="#0c0c0c" stroke-width="1.2" />
<line x1="578.00" y1="256.28" x2="575.00" y2="256.28" stroke="#0c0c0c" stroke-width="1.2" />
<polygon fill="#ff880a" points="352.4,251.4 352.8,251.8 353.3,251.9 353.7,251.6 354.1,251.3 354.6,251.8 355.0,251.3 355.4,251.2 355.9,251.5 356.3,251.9 356.8,251.5 357.2,251.8 357.6,251.3 358.1,252.0 358.5,251.1 358.9,251.3 359.4,251.7 359.8,250.0 360.2,252.0 360.7,251.8 361.1,251.3 361.5,252.1 362.0,250.8 362.4,251.9 362.8,251.0 363.3,251.4 363.7,251.5 364.2,252.1 364.6,251.7 365.0,251.8 365.5,251.6 365.9,250.8 366.3,250.7 366.8,252.1 367.2,251.8 367.6,251.6 368.1,250.8 368.5,252.0 368.9,251.9 369.4,251.5 369.8,251.3 370.2,251.5 370.7,250.8 371.1,251.8 371.5,251.2 372.0,251.1 372.4,251.0 372.9,251.7 373.3,251.2 373.7,251.3 374.2,252.2 374.6,251.2 375.0,251.8 375.5,252.2 375.9,251.8 376.3,252.1 376.8,251.9 377.2,251.9 377.6,251.9 378.1,250.8 378.5,251.6 378.9,251.6 379.4,251.2 379.8,250.9 380.3,251.7 380.7,252.2 381.1,251.7 381.6,251.7 382.0,251.9 382.4,250.7 382.9,250.8 383.3,252.2 383.7,251.2 384.2,251.8 384.6,251.8 385.0,251.1 385.5,251.1 385.9,252.2 386.3,250.8 386.8,251.5 387.2,251.1 387.7,251.7 388.1,252.1 388.5,251.2 389.0,250.7 389.4,252.1 389.8,251.5 390.3,251.2 390.7,252.0 391.1,251.6 391.6,251.8 392.0,251.7 392.4,251.9 392.9,252.0 393.3,249.9 393.7,251.9 394.2,251.6 394.6,251.0 395.0,251.3 395.5,251.9 395.9,251.0 396.4,251.9 396.8,250.5 397.2,251.4 397.7,251.2 398.1,250.8 398.5,251.6 399.0,251.9 399.4,250.8 399.8,250.9 400.3,251.4 400.7,251.3 401.1,251.8 401.6,251.5 402.0,252.0 402.4,252.1 402.9,251.3 403.3,251.9 403.8,251.9 404.2,251.6 404.6,250.0 405.1,252.1 405.5,251.4 405.9,251.3 406.4,250.6 406.8,251.8 407.2,251.9 407.7,251.6 408.1,252.1 408.5,251.0 409.0,251.6 409.4,250.7 409.8,250.7 410.3,252.0 410.7,251.7 411.2,251.8 411.6,250.8 412.0,250.8 412.5,250.8 412.9,251.0 413.3,251.7 413.8,250.9 414.2,251.6 414.6,251.3 415.1,251.9 415.5,251.8 415.9,251.2 416.4,252.0 416.8,250.9 417.2,251.3 417.7,251.7 418.1,251.9 418.5,250.8 419.0,251.2 419.4,250.9 419.9,251.7 420.3,251.1 420.7,251.4 421.2,250.1 421.6,252.0 422.0,251.2 422.5,250.8 422.9,250.2 423.3,251.5 423.8,252.0 424.2,251.1 424.6,251.8 425.1,251.4 425.5,251.9 425.9,251.8 426.4,251.7 426.8,250.8 427.3,250.7 427.7,250.9 428.1,251.7 428.6,250.8 429.0,250.8 429.4,252.1 429.9,250.2 430.3,251.0 430.7,250.9 431.2,251.9 431.6,251.0 432.0,251.8 432.5,251.9 432.9,251.8 433.3,251.7 433.8,250.4 434.2,251.0 434.7,251.9 435.1,251.0 435.5,249.8 436.0,251.0 436.4,251.0 436.8,251.9 437.3,251.2 437.7,251.0 438.1,251.6 438.6,252.2 439.0,251.4 439.4,251.5 439.9,251.2 440.3,250.9 440.7,251.5 441.2,251.5 441.6,251.7 442.0,252.0 442.5,252.0 442.9,251.1 443.4,251.6 443.8,251.5 444.2,251.9 444.7,251.0 445.1,251.5 445.5,251.1 446.0,251.1 446.4,250.9 446.8,251.2 447.3,251.3 447.7,251.1 448.1,251.5 448.6,250.8 449.0,251.6 449.4,251.4 449.9,251.4 450.3,251.1 450.8,251.4 451.2,251.2 451.6,250.7 452.1,250.7 452.5,251.2 452.9,251.1 453.4,251.0 453.8,251.0 454.2,251.4 454.7,251.2 455.1,251.8 455.5,251.7 456.0,251.8 456.4,251.1 456.8,251.5 457.3,251.7 457.7,251.0 458.2,251.0 458.6,250.8 459.0,252.0 459.5,252.0 459.9,250.9 460.3,250.9 460.8,251.2 461.2,250.9 461.6,252.0 462.1,252.0 462.5,250.0 462.9,251.4 463.4,251.6 463.8,250.3 464.2,250.8 464.7,251.5 465.1,251.3 465.6,251.5 466.0,251.5 466.4,251.8 466.9,251.8 467.3,251.0 467.7,251.3 468.2,251.1 468.6,250.8 469.0,251.3 469.5,251.3 469.9,251.3 470.3,251.5 470.8,252.1 471.2,251.6 471.6,251.8 472.1,251.6 472.5,250.4 472.9,251.3 473.4,251.6 473.8,251.5 474.3,251.9 474.7,251.2 475.1,250.9 475.6,251.8 476.0,251.0 476.4,252.1 476.9,250.8 477.3,251.3 477.7,252.1 478.2,250.9 478.6,251.3 479.0,251.0 479.5,251.6 479.9,251.0 480.3,250.7 480.8,251.3 481.2,251.7 481.7,251.2 482.1,250.9 482.5,251.3 483.0,251.0 483.4,251.8 483.8,250.8 484.3,251.0 484.7,251.8 485.1,251.9 485.6,251.5 486.0,251.9 486.4,251.4 486.9,251.9 487.3,251.4 487.7,252.1 488.2,251.3 488.6,251.7 489.1,250.7 489.5,251.8 489.9,251.0 490.4,252.1 490.8,252.1 491.2,250.8 491.7,251.6 492.1,251.4 492.5,251.6 493.0,250.7 493.4,251.7 493.8,252.1 494.3,249.8 494.7,250.8 495.1,251.1 495.6,252.0 496.0,252.0 496.4,251.0 496.9,250.8 497.3,251.5 497.8,251.3 498.2,251.5 498.6,252.1 499.1,250.9 499.5,251.8 499.9,251.5 500.4,249.8 500.8,251.9 501.2,251.9 501.7,250.8 502.1,252.1 502.5,252.2 503.0,252.2 503.4,251.5 503.8,252.0 504.3,251.9 504.7,251.5 505.2,251.1 505.6,252.1 506.0,252.1 506.5,250.9 506.9,251.5 507.3,251.0 507.8,250.4 508.2,251.4 508.6,250.9 509.1,250.2 509.5,251.5 509.9,252.2 510.4,252.0 510.8,252.1 511.2,251.3 511.7,252.0 512.1,252.0 512.6,252.0 513.0,250.9 513.4,252.0 513.9,251.6 514.3,250.8 514.7,251.7 515.2,250.8 515.6,251.4 516.0,251.6 516.5,252.1 516.9,252.0 517.3,251.3 517.8,252.1 518.2,251.8 518.6,251.8 519.1,251.8 519.5,251.3 519.9,251.5 520.4,252.0 520.8,251.8 521.3,251.3 521.7,251.1 522.1,251.5 522.6,251.4 523.0,251.7 523.4,251.5 523.9,251.0 524.3,250.6 524.7,251.1 525.2,251.1 525.6,251.2 526.0,251.4 526.5,251.5 526.9,252.0 527.3,251.3 527.8,251.6 528.2,251.6 528.7,251.8 529.1,251.7 529.5,251.5 530.0,251.3 530.4,251.7 530.8,251.9 531.3,252.1 531.7,251.0 532.1,251.4 532.6,251.3 533.0,251.4 533.4,251.4 533.9,251.5 534.3,251.7 534.7,251.7 535.2,252.0 535.6,250.7 536.1,251.8 536.5,251.9 536.9,250.7 537.4,251.0 537.8,251.7 538.2,251.9 538.7,251.2 539.1,251.6 539.5,252.0 540.0,251.0 540.4,252.2 540.8,251.7 541.3,250.8 541.7,250.7 542.1,250.8 542.6,252.1 543.0,250.9 543.4,250.8 543.9,251.6 544.3,250.9 544.8,251.9 545.2,251.8 545.6,251.6 546.1,251.0 546.5,251.8 546.9,251.7 547.4,251.8 547.8,250.9 548.2,251.1 548.7,250.8 549.1,252.0 549.5,251.3 550.0,251.9 550.4,251.4 550.8,251.2 551.3,252.1 551.7,251.2 552.2,251.4 552.6,251.9 553.0,251.6 553.5,250.9 553.9,251.2 554.3,251.2 554.8,251.7 555.2,250.8 555.6,252.1 556.1,250.7 556.5,251.9 556.9,251.8 557.4,252.2 557.8,252.1 558.2,251.8 558.7,250.8 559.1,251.6 559.6,252.1 560.0,251.2 560.4,250.6 560.9,251.4 561.3,252.1 561.7,251.4 562.2,250.9 562.6,251.9 563.0,251.2 563.5,251.5 563.9,250.9 564.3,251.0 564.8,251.2 565.2,251.0 565.6,251.0 566.1,251.1 566.5,251.5 566.9,252.2 567.4,251.1 567.8,251.5 568.3,252.2 568.7,250.8 569.1,251.1 569.6,251.8 570.0,250.8 570.4,251.1 570.9,251.7 571.3,251.0 571.7,251.3 572.2,250.8 572.6,251.8 573.0,252.0 573.5,252.1 573.9,252.2 574.3,251.6 574.8,251.6 575.2,251.0 575.7,251.5 576.1,252.1 576.5,250.8 577.0,251.3 577.4,251.3 577.8,251.5 578.3,250.0 578.7,251.5 578.7,260.2 578.3,259.5 577.8,259.6 577.4,260.1 577.0,259.3 576.5,260.7 576.1,259.9 575.7,259.7 575.2,259.4 574.8,259.9 574.3,260.2 573.9,260.5 573.5,259.5 573.0,260.7 572.6,259.3 572.2,259.9 571.7,260.3 571.3,259.3 570.9,260.0 570.4,259.5 570.0,260.4 569.6,260.2 569.1,260.4 568.7,259.6 568.3,260.2 567.8,259.5 567.4,260.0 566.9,260.3 566.5,259.5 566.1,259.4 565.6,259.6 565.2,259.6 564.8,259.9 564.3,260.3 563.9,260.0 563.5,259.7 563.0,259.6 562.6,259.4 562.2,259.7 561.7,260.2 561.3,260.4 560.9,259.4 560.4,260.2 560.0,260.4 559.6,259.8 559.1,260.4 558.7,259.3 558.2,260.4 557.8,261.0 557.4,260.4 556.9,260.2 556.5,260.1 556.1,259.7 555.6,259.5 555.2,261.2 554.8,259.5 554.3,259.6 553.9,259.7 553.5,260.5 553.0,260.4 552.6,260.3 552.2,259.3 551.7,260.0 551.3,260.5 550.8,259.7 550.4,260.4 550.0,259.4 549.5,259.6 549.1,259.6 548.7,259.5 548.2,260.6 547.8,259.4 547.4,259.4 546.9,260.3 546.5,259.3 546.1,259.6 545.6,259.3 545.2,259.4 544.8,259.5 544.3,260.4 543.9,259.5 543.4,260.6 543.0,259.7 542.6,260.5 542.1,260.1 541.7,260.5 541.3,259.7 540.8,259.6 540.4,259.7 540.0,261.3 539.5,259.5 539.1,259.4 538.7,260.7 538.2,260.0 537.8,260.1 537.4,261.1 536.9,259.3 536.5,260.1 536.1,260.0 535.6,259.8 535.2,260.2 534.7,260.4 534.3,260.4 533.9,260.1 533.4,260.5 533.0,259.8 532.6,260.6 532.1,259.8 531.7,260.7 531.3,259.9 530.8,261.5 530.4,260.5 530.0,259.3 529.5,259.7 529.1,260.5 528.7,260.0 528.2,259.9 527.8,260.5 527.3,260.6 526.9,259.2 526.5,260.3 526.0,260.3 525.6,260.5 525.2,259.7 524.7,259.5 524.3,259.8 523.9,259.3 523.4,260.7 523.0,259.6 522.6,261.0 522.1,259.6 521.7,260.0 521.3,260.2 520.8,260.0 520.4,259.8 519.9,259.4 519.5,260.0 519.1,260.2 518.6,259.9 518.2,260.6 517.8,259.6 517.3,260.5 516.9,260.4 516.5,260.9 516.0,259.7 515.6,260.6 515.2,261.4 514.7,260.7 514.3,259.7 513.9,260.0 513.4,260.6 513.0,260.1 512.6,259.4 512.1,260.0 511.7,261.2 511.2,260.0 510.8,260.4 510.4,261.3 509.9,259.5 509.5,260.0 509.1,260.5 508.6,260.3 508.2,260.3 507.8,260.0 507.3,259.4 506.9,259.6 506.5,259.2 506.0,259.7 505.6,259.8 505.2,260.1 504.7,259.5 504.3,259.3 503.8,260.4 503.4,259.5 503.0,260.0 502.5,259.7 502.1,259.6 501.7,259.6 501.2,260.7 500.8,259.6 500.4,260.5 499.9,260.6 499.5,259.7 499.1,259.8 498.6,260.0 498.2,259.4 497.8,259.7 497.3,260.6 496.9,260.5 496.4,260.6 496.0,259.2 495.6,259.5 495.1,259.7 494.7,259.6 494.3,259.4 493.8,260.3 493.4,260.6 493.0,259.3 492.5,259.4 492.1,260.6 491.7,260.6 491.2,259.3 490.8,260.5 490.4,259.5 489.9,260.6 489.5,259.8 489.1,259.9 488.6,260.1 488.2,259.4 487.7,259.8 487.3,260.0 486.9,260.3 486.4,260.1 486.0,260.5 485.6,260.4 485.1,260.3 484.7,260.2 484.3,260.3 483.8,259.3 483.4,260.4 483.0,260.5 482.5,261.4 482.1,259.6 481.7,260.5 481.2,260.5 480.8,260.4 480.3,260.4 479.9,260.5 479.5,260.4 479.0,260.2 478.6,260.2 478.2,259.3 477.7,260.3 477.3,260.2 476.9,260.6 476.4,260.3 476.0,260.5 475.6,260.4 475.1,259.2 474.7,260.6 474.3,260.1 473.8,259.4 473.4,260.6 472.9,260.8 472.5,259.4 472.1,261.5 471.6,259.8 471.2,260.4 470.8,260.6 470.3,259.4 469.9,259.5 469.5,260.1 469.0,260.4 468.6,259.5 468.2,260.9 467.7,261.3 467.3,259.7 466.9,260.7 466.4,259.8 466.0,260.0 465.6,260.4 465.1,260.5 464.7,259.3 464.2,260.7 463.8,260.1 463.4,259.3 462.9,260.5 462.5,260.5 462.1,259.9 461.6,259.3 461.2,259.6 460.8,260.3 460.3,260.5 459.9,260.4 459.5,260.4 459.0,260.4 458.6,259.6 458.2,260.1 457.7,260.4 457.3,261.4 456.8,260.2 456.4,259.6 456.0,260.4 455.5,259.6 455.1,259.4 454.7,260.4 454.2,260.6 453.8,260.2 453.4,259.5 452.9,260.0 452.5,259.6 452.1,259.8 451.6,259.3 451.2,260.3 450.8,260.6 450.3,260.2 449.9,260.1 449.4,260.4 449.0,261.6 448.6,260.2 448.1,259.8 447.7,259.6 447.3,259.8 446.8,259.9 446.4,260.3 446.0,259.5 445.5,259.8 445.1,260.1 444.7,260.0 444.2,259.3 443.8,260.2 443.4,260.4 442.9,260.6 442.5,259.5 442.0,259.7 441.6,260.5 441.2,259.6 440.7,260.1 440.3,260.3 439.9,259.7 439.4,260.3 439.0,260.5 438.6,259.6 438.1,259.3 437.7,259.7 437.3,260.4 436.8,259.9 436.4,260.6 436.0,259.9 435.5,259.9 435.1,259.5 434.7,259.3 434.2,260.3 433.8,259.8 433.3,260.0 432.9,260.3 432.5,260.7 432.0,259.3 431.6,260.4 431.2,259.3 430.7,260.6 430.3,261.4 429.9,260.1 429.4,260.2 429.0,260.3 428.6,259.2 428.1,260.1 427.7,260.3 427.3,260.5 426.8,260.2 426.4,259.7 425.9,260.6 425.5,259.2 425.1,260.2 424.6,259.9 424.2,260.5 423.8,259.3 423.3,259.9 422.9,260.5 422.5,260.5 422.0,259.5 421.6,260.1 421.2,260.0 420.7,260.5 420.3,261.5 419.9,259.9 419.4,260.2 419.0,260.4 418.5,259.4 418.1,259.9 417.7,260.1 417.2,259.7 416.8,259.5 416.4,259.8 415.9,260.1 415.5,260.7 415.1,259.3 414.6,260.3 414.2,259.6 413.8,260.7 413.3,260.0 412.9,260.0 412.5,260.5 412.0,259.5 411.6,259.6 411.2,259.4 410.7,259.4 410.3,261.5 409.8,260.6 409.4,260.4 409.0,259.4 408.5,259.3 408.1,259.3 407.7,259.9 407.2,259.4 406.8,260.4 406.4,260.1 405.9,260.2 405.5,259.7 405.1,259.4 404.6,260.0 404.2,259.6 403.8,259.8 403.3,260.5 402.9,259.4 402.4,259.8 402.0,260.7 401.6,260.7 401.1,260.6 400.7,260.0 400.3,260.6 399.8,260.3 399.4,260.4 399.0,260.4 398.5,260.7 398.1,260.0 397.7,259.6 397.2,259.3 396.8,259.4 396.4,259.5 395.9,259.7 395.5,260.1 395.0,259.8 394.6,259.4 394.2,259.9 393.7,260.1 393.3,259.6 392.9,260.4 392.4,260.2 392.0,260.7 391.6,260.5 391.1,259.5 390.7,259.6 390.3,260.5 389.8,259.8 389.4,259.9 389.0,260.7 388.5,260.0 388.1,260.3 387.7,259.7 387.2,260.4 386.8,259.5 386.3,259.6 385.9,259.9 385.5,260.2 385.0,260.5 384.6,260.1 384.2,260.5 383.7,259.3 383.3,260.4 382.9,259.7 382.4,259.9 382.0,260.4 381.6,259.4 381.1,259.2 380.7,259.8 380.3,260.6 379.8,260.7 379.4,259.8 378.9,260.7 378.5,260.6 378.1,259.5 377.6,260.3 377.2,259.7 376.8,260.3 376.3,259.8 375.9,260.6 375.5,260.2 375.0,260.3 374.6,259.9 374.2,259.9 373.7,259.5 373.3,259.3 372.9,259.6 372.4,260.6 372.0,260.9 371.5,260.3 371.1,259.4 370.7,260.5 370.2,259.2 369.8,260.3 369.4,260.5 368.9,259.6 368.5,260.1 368.1,259.6 367.6,260.0 367.2,260.5 366.8,259.3 366.3,259.4 365.9,259.5 365.5,259.4 365.0,259.7 364.6,260.3 364.2,259.4 363.7,260.2 363.3,259.3 362.8,260.6 362.4,260.6 362.0,259.6 361.5,260.5 361.1,259.8 360.7,259.8 360.2,260.3 359.8,260.3 359.4,259.7 358.9,259.9 358.5,260.5 358.1,260.0 357.6,260.0 357.2,260.6 356.8,260.7 356.3,261.5 355.9,259.4 355.4,259.6 355.0,259.6 354.6,259.7 354.1,259.3 353.7,260.2 353.3,260.7 352.8,259.6 352.4,259.3"/>
<text x="347.80" y="423.80" font-size="14" fill="#0c0c0c" stroke="#0c0c0c" stroke-width="0.3" text-anchor="end" >0.6</text>
<text x="347.80" y="342.54" font-size="14" fill="#0c0c0c" stroke="#0c0c0c" stroke-width="0.3" text-anchor="end" >0.8</text>
<text x="347.80" y="261.28" font-size="14" fill="#0c0c0c" stroke="#0c0c0c" stroke-width="0.3" text-anchor="end" >1.0</text>
<text x="352.60" y="434.90" font-size="14.3" fill="#0c0c0c" stroke="#0c0c0c" stroke-width="0.3" text-anchor="middle" >0</text>
<text x="409.12" y="434.90" font-size="14.3" fill="#0c0c0c" stroke="#0c0c0c" stroke-width="0.3" text-anchor="middle" >50</text>
<text x="465.65" y="434.90" font-size="14.3" fill="#0c0c0c" stroke="#0c0c0c" stroke-width="0.3" text-anchor="middle" >100</text>
<text x="522.18" y="434.90" font-size="14.3" fill="#0c0c0c" stroke="#0c0c0c" stroke-width="0.3" text-anchor="middle" >150</text>
<text x="578.70" y="434.90" font-size="14.3" fill="#0c0c0c" stroke="#0c0c0c" stroke-width="0.3" text-anchor="middle" >200</text>
<text x="318.00" y="327.80" font-size="15.7" fill="#0c0c0c" stroke="#0c0c0c" stroke-width="0.3" text-anchor="middle" transform="rotate(-90 318.00 327.80)" >Intensity (a.u.)</text>
<text x="465.30" y="454.60" font-size="15.6" fill="#0c0c0c" stroke="#0c0c0c" stroke-width="0.3" text-anchor="middle" >Time (ms)</text>
<text x="8.2" y="21.3" font-size="20.6" fill="#0c0c0c" stroke="#0c0c0c" stroke-width="0.4" class="pl">(a)</text>
<text x="304.9" y="20.6" font-size="20.6" fill="#0c0c0c" stroke="#0c0c0c" stroke-width="0.4" class="pl">(b)</text>
<text x="8.5" y="240.0" font-size="20.6" fill="#0c0c0c" stroke="#0c0c0c" stroke-width="0.4" class="pl">(c)</text>
<text x="305.1" y="239.8" font-size="20.6" fill="#0c0c0c" stroke="#0c0c0c" stroke-width="0.4" class="pl">(d)</text>
</g>
</svg>
</body></html>
